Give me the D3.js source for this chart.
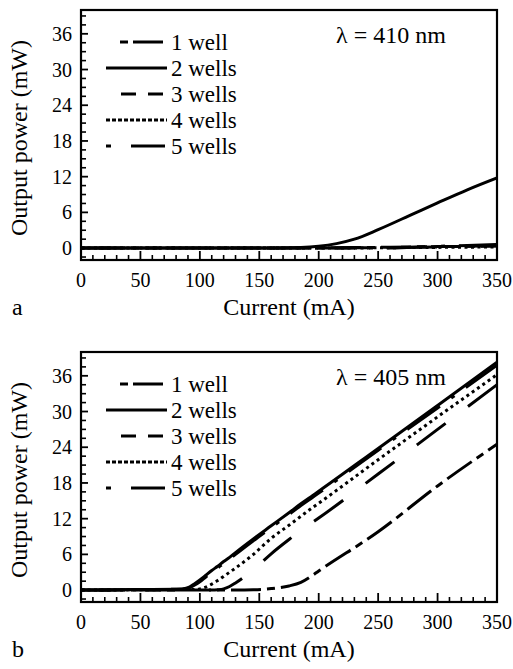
<!DOCTYPE html>
<html>
<head>
<meta charset="utf-8">
<script src="https://cdn.jsdelivr.net/npm/d3@7"></script>
<style>
  body { margin: 0; background: #fff; }
  svg text { font-family: 'Liberation Serif', serif; fill: #000; }
</style>
</head>
<body>
<svg id="chart" width="513" height="669" font-family="Liberation Serif"></svg>
<script>
// series names (legend order)
var seriesNames = ["1 well", "2 wells", "3 wells", "4 wells", "5 wells"];

// panel a, lambda = 410 nm
var currentA = [0, 50, 100, 150, 185, 200, 215, 230, 250, 280, 300, 325, 350];
var powerA1 = [0, 0, 0, 0, 0, 0.02, 0.05, 0.08, 0.12, 0.2, 0.25, 0.3, 0.35];
var powerA2 = [0, 0, 0, 0, 0.1, 0.3, 0.75, 1.5, 3.1, 5.8, 7.6, 9.8, 11.8];
var powerA3 = [0, 0, 0, 0, 0, 0, 0.02, 0.05, 0.1, 0.15, 0.2, 0.3, 0.4];
var powerA4 = [0, 0, 0, 0, 0, 0, 0, 0.02, 0.05, 0.1, 0.12, 0.15, 0.2];
var powerA5 = [0, 0, 0, 0, 0, 0, 0, 0, 0, 0.15, 0.3, 0.45, 0.6];

// panel b, lambda = 405 nm
var currentB = [0, 50, 85, 90, 95, 100, 105, 110, 115, 120, 125, 130, 145, 160, 175, 185, 195, 200, 250, 300, 350];
var powerB1 = [0, 0, 0, 0, 0, 0, 0, 0, 0, 0, 0, 0, 0.05, 0.25, 0.7, 1.3, 2.5, 3.2, 9.8, 17.5, 24.5];
var powerB2 = [0, 0.1, 0.2, 0.4, 1.0, 1.7, 2.5, 3.3, 4.0, 4.8, 5.5, 6.3, 8.6, 10.8, 13.0, 14.5, 15.9, 16.6, 23.8, 31.0, 38.3];
var powerB3 = [0, 0, 0, 0, 0, 0, 0, 0, 0.05, 0.2, 0.6, 1.2, 3.4, 6.1, 8.5, 10.0, 11.4, 12.1, 19.5, 27.0, 34.5];
var powerB4 = [0, 0.05, 0.1, 0.1, 0.1, 0.2, 0.5, 1.0, 1.6, 2.3, 3.0, 3.7, 6.0, 8.7, 10.9, 12.4, 13.9, 14.6, 21.9, 29.1, 36.2];
var powerB5 = [0, 0.1, 0.15, 0.3, 0.8, 1.4, 2.2, 3.0, 3.7, 4.5, 5.2, 6.0, 8.3, 10.5, 12.7, 14.2, 15.6, 16.3, 23.5, 30.6, 37.8];

// axis ticks
var xMajor = [0, 50, 100, 150, 200, 250, 300, 350];
var yMajor = [0, 6, 12, 18, 24, 30, 36];

// line styles, plot and legend sample
var styles = [
    {dash: "30,6,8,6", legendDash: "8,5,30,5", x0: 120, x1: 163},
    {dash: null, legendDash: null, x0: 106, x1: 167},
    {dash: "36,28", legendDash: "15,12", x0: 121, x1: 165},
    {dash: "3,3.5", legendDash: "4,2", x0: 106, x1: 167},
    {dash: "4,14,40,14", legendDash: "5,20,34,20", x0: 106, x1: 165}
];

var svg = d3.select("#chart");

var x = d3.scaleLinear().domain([0, 350]).range([81, 497]);

// serif text helper
function label(sel, size) {
    return sel.append("text")
        .attr("font-family", "Liberation Serif")
        .attr("font-size", size)
        .attr("fill", "#000");
}

function drawPanel(top, current, powers, lambda, letter, id) {

    var y = d3.scaleLinear().domain([-2, 40]).range([top + 250, top]);
    var g = svg.append("g");

    g.append("clipPath").attr("id", "clip" + id)
        .append("rect")
        .attr("x", x(0)).attr("y", y(40))
        .attr("width", x(350) - x(0)).attr("height", y(-2) - y(40));

    // minor + major ticks, pointing inward
    g.selectAll(".xminor")
        .data(d3.range(10, 350, 10).filter(function(d) { return d % 50 != 0; }))
        .join("line")
        .attr("x1", d => x(d)).attr("x2", d => x(d))
        .attr("y1", y(-2)).attr("y2", y(-2) - 5)
        .attr("stroke", "#000").attr("stroke-width", 1.6);
    g.selectAll(".xmajor")
        .data(xMajor)
        .join("line")
        .attr("x1", d => x(d)).attr("x2", d => x(d))
        .attr("y1", y(-2)).attr("y2", y(-2) - 9)
        .attr("stroke", "#000").attr("stroke-width", 1.8);
    g.selectAll(".yminor")
        .data(d3.range(-1.5, 40, 1.5).filter(function(d) { return d % 6 != 0; }))
        .join("line")
        .attr("x1", x(0)).attr("x2", x(0) + 5)
        .attr("y1", d => y(d)).attr("y2", d => y(d))
        .attr("stroke", "#000").attr("stroke-width", 1.6);
    g.selectAll(".ymajor")
        .data(yMajor)
        .join("line")
        .attr("x1", x(0)).attr("x2", x(0) + 7)
        .attr("y1", d => y(d)).attr("y2", d => y(d))
        .attr("stroke", "#000").attr("stroke-width", 1.8);

    // tick labels
    xMajor.forEach(function(d) {
        label(g, 20)
            .attr("x", x(d))
            .attr("y", y(-2) + 27)
            .attr("text-anchor", "middle")
            .text(d);
    });
    yMajor.forEach(function(d) {
        label(g, 20)
            .attr("x", 72)
            .attr("y", y(d))
            .attr("dy", "0.35em")
            .attr("text-anchor", "end")
            .text(d);
    });

    // curves
    var line = d3.line()
        .x(d => x(d[0]))
        .y(d => y(d[1]))
        .curve(d3.curveMonotoneX);

    var curves = g.append("g").attr("clip-path", "url(#clip" + id + ")");
    powers.forEach(function(p, i) {
        var pts = current.map(function(c, j) { return [c, p[j]]; });
        curves.append("path")
            .attr("d", line(pts))
            .attr("fill", "none")
            .attr("stroke", "#000")
            .attr("stroke-width", 3)
            .attr("stroke-dasharray", styles[i].dash);
    });

    // frame
    g.append("rect")
        .attr("x", x(0)).attr("y", y(40))
        .attr("width", x(350) - x(0)).attr("height", y(-2) - y(40))
        .attr("fill", "none")
        .attr("stroke", "#000")
        .attr("stroke-width", 2.2);

    // legend
    seriesNames.forEach(function(name, i) {
        var ly = top + 32 + i * 26;
        g.append("line")
            .attr("x1", styles[i].x0).attr("x2", styles[i].x1)
            .attr("y1", ly).attr("y2", ly)
            .attr("stroke", "#000")
            .attr("stroke-width", 3)
            .attr("stroke-dasharray", styles[i].legendDash);
        label(g, 23)
            .attr("x", 171)
            .attr("y", ly)
            .attr("dy", "0.33em")
            .text(name);
    });

    label(g, 24)
        .attr("x", 336)
        .attr("y", top + 33)
        .text("\u03bb = " + lambda + " nm");

    // axis titles and panel letter
    label(g, 24)
        .attr("transform", "translate(27," + (top + 128) + ") rotate(-90)")
        .attr("text-anchor", "middle")
        .text("Output power (mW)");
    label(g, 24)
        .attr("x", 289)
        .attr("y", y(-2) + 55)
        .attr("text-anchor", "middle")
        .text("Current (mA)");
    label(g, 24)
        .attr("x", 12)
        .attr("y", y(-2) + 55)
        .text(letter);
}

drawPanel(10, currentA, [powerA1, powerA2, powerA3, powerA4, powerA5], 410, "a", "a");
drawPanel(352, currentB, [powerB1, powerB2, powerB3, powerB4, powerB5], 405, "b", "b");
</script>
</body>
</html>
